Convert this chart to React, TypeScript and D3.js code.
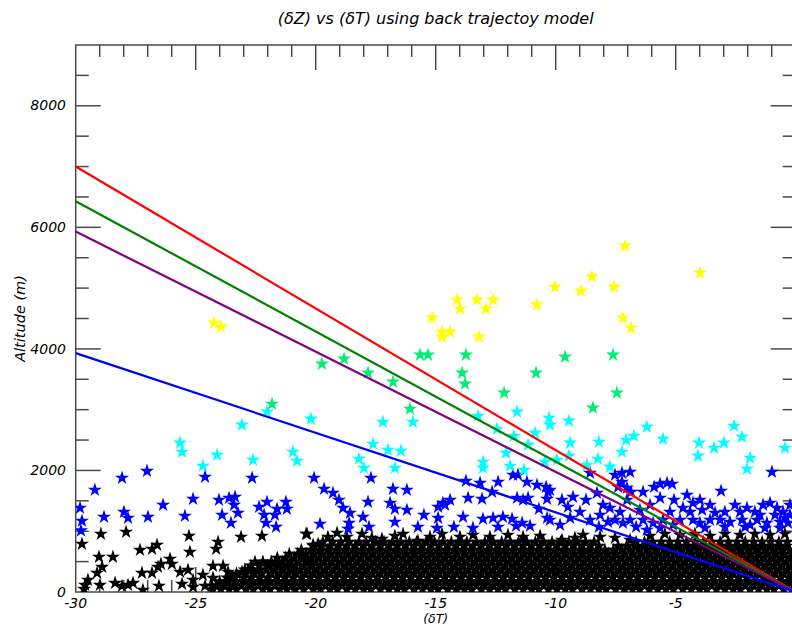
import * as d3 from "d3";
import React from "react";

// axis setup
const xDomain = [-30, 0];
const yDomain = [0, 9000];
const xLabels = [-30, -25, -20, -15, -10, -5];
const yLabels = [0, 2000, 4000, 6000, 8000];

// fitted lines: altitude at dT = -30, all running to the origin
const lineStart = [7000, 6430, 5930, 3930];
const lineColors = ["#ff0000", "#008000", "#800080", "#0000ff"];

// star colour by altitude band
const bandLimits = [1000, 2000, 3000, 4000];
const bandColors = ["#000000", "#0000ff", "#00ffff", "#00ee76", "#ffff00"];

const yellowStars = [
  [-7.11, 5695], [-3.99, 5251], [-10.03, 5020], [-8.49, 5185], [-8.95, 4954], [-7.57, 5020],
  [-14.11, 4806], [-13.28, 4806], [-12.61, 4806], [-13.99, 4658], [-12.9, 4658], [-10.78, 4724],
  [-15.15, 4510], [-7.2, 4510], [-6.86, 4345], [-14.74, 4280], [-14.4, 4280], [-14.74, 4197],
  [-13.2, 4197], [-24.24, 4428], [-23.95, 4362],
];

const greenStars = [
  [-15.65, 3901], [-15.32, 3901], [-13.74, 3901], [-9.61, 3868], [-7.61, 3901], [-13.9, 3605],
  [-10.82, 3605], [-13.78, 3424], [-16.78, 3457], [-12.15, 3276], [-7.45, 3276], [-8.45, 3029],
  [-16.07, 3012], [-19.74, 3753], [-18.82, 3835], [-17.82, 3605], [-21.82, 3094],
];

const cyanStars = [
  [-25.65, 2453], [-25.57, 2304], [-24.7, 2074], [-24.11, 2255], [-23.07, 2749], [-22.61, 2173],
  [-22.03, 2963], [-20.95, 2304], [-20.78, 2156], [-20.2, 2848], [-17.2, 2798], [-15.95, 2798],
  [-17.61, 2436], [-16.99, 2337], [-16.45, 2321], [-18.2, 2189], [-17.99, 2041], [-16.7, 2041],
  [-13.24, 2897], [-11.61, 2963], [-12.45, 2683], [-11.74, 2568], [-13.03, 2140], [-13.03, 2041],
  [-12.07, 2288], [-11.9, 2074], [-11.32, 2008], [-11.15, 2420], [-10.86, 2617], [-10.45, 2140],
  [-10.24, 2749], [-10.28, 2864], [-9.45, 2815], [-9.4, 2453], [-9.95, 2173], [-8.2, 2469],
  [-8.24, 2189], [-7.74, 2058], [-8.7, 2090], [-7.24, 2304], [-7.07, 2502], [-6.74, 2568],
  [-6.2, 2716], [-5.53, 2518], [-4.03, 2453], [-4.07, 2239], [-3.4, 2370], [-2.99, 2453],
  [-2.57, 2732], [-2.24, 2551], [-1.9, 2206], [-2.03, 2025], [-0.45, 2370], [-9.45, 2239],
];

const blueStars = [
  [-29.82, 1383], [-29.74, 1169], [-29.78, 1010], [-29.2, 1679], [-28.82, 1235], [-28.07, 1876],
  [-27.99, 1317], [-27.82, 1218], [-27.03, 1990], [-26.99, 1235], [-26.36, 1432], [-25.45, 1251],
  [-25.11, 1531], [-24.61, 1893], [-24.03, 1514], [-23.9, 1267], [-23.61, 1547], [-23.53, 1136],
  [-23.36, 1564], [-23.4, 1432], [-23.24, 1300], [-22.65, 1876], [-22.36, 1399], [-22.03, 1481],
  [-22.15, 1267], [-22.07, 1136], [-21.7, 1267], [-21.65, 1070], [-21.61, 1366], [-21.24, 1481],
  [-21.2, 1366], [-20.07, 1876], [-19.65, 1695], [-19.28, 1630], [-19.03, 1514], [-18.86, 1383],
  [-18.57, 1300], [-19.82, 1119], [-18.61, 1136], [-18.65, 1037], [-18.03, 1235], [-17.82, 1481],
  [-17.7, 1876], [-17.78, 1070], [-16.78, 1695], [-16.2, 1679], [-16.9, 1465], [-16.7, 1366],
  [-16.2, 1350], [-16.7, 1152], [-15.49, 1267], [-15.74, 1070], [-14.9, 1218], [-14.95, 1053],
  [-14.9, 1399], [-14.7, 1465], [-14.4, 1514], [-14.61, 1432], [-13.86, 1235], [-14.24, 1070],
  [-13.65, 1547], [-13.74, 1827], [-13.15, 1794], [-12.4, 1811], [-12.65, 1646], [-13.07, 1531],
  [-13.45, 1053], [-13.03, 1202], [-12.61, 1218], [-12.2, 1235], [-11.82, 1202], [-11.65, 1086],
  [-11.07, 1086], [-11.4, 1136], [-12.4, 1070], [-11.78, 1926], [-11.57, 1926], [-11.2, 1811],
  [-10.78, 1761], [-10.4, 1728], [-10.32, 1646], [-11.61, 1547], [-11.36, 1514], [-11.15, 1547],
  [-10.36, 1531], [-10.7, 1366], [-10.36, 1218], [-10.24, 1679], [-10.24, 1185], [-9.74, 1514],
  [-9.49, 1399], [-9.28, 1564], [-8.74, 1514], [-8.28, 1630], [-8.03, 1432], [-7.74, 1383],
  [-8.2, 1070], [-8.57, 1959], [-7.53, 1926], [-7.24, 1959], [-6.9, 1975], [-7.4, 1728],
  [-7.24, 1811], [-7.03, 1712], [-7.03, 1514], [-6.86, 1646], [-7.53, 1185], [-7.2, 1136],
  [-6.9, 1185], [-6.65, 1070], [-6.36, 1646], [-5.9, 1728], [-5.65, 1778], [-5.36, 1794],
  [-5.15, 1778], [-5.07, 1514], [-4.53, 1597], [-4.28, 1465], [-4.7, 1383], [-5.24, 1317],
  [-5.53, 1185], [-5.94, 1136], [-6.36, 1185], [-6.2, 1021], [-3.9, 1350], [-3.57, 1185],
  [-3.15, 1185], [-3.11, 1662], [-2.74, 1152], [-2.24, 1185], [-2.03, 1383], [-1.7, 1317],
  [-1.36, 1432], [-1.07, 1465], [-0.78, 1383], [-0.53, 1317], [-0.24, 1432], [-0.99, 1975],
  [-1.61, 1185], [-1.2, 1136], [-0.65, 1152], [-0.32, 1136], [-1.9, 1103], [-3.99, 1136],
  [-4.28, 1185], [-3.99, 1514], [-3.57, 1432], [-2.53, 1432], [-2.32, 1317], [-1.49, 1267],
  [-0.86, 1267], [-0.45, 1218], [-2.95, 1317], [-3.36, 1300], [-4.4, 1317], [-4.82, 1185],
  [-5.65, 1053], [-5.11, 1103], [-3.78, 1053], [-2.95, 1070], [-2.11, 1070], [-1.28, 1053],
  [-0.65, 1053], [-0.24, 1267], [-8.15, 1267], [-8.57, 1185], [-8.99, 1317], [-9.4, 1218],
  [-9.82, 1103], [-7.82, 1152], [-7.32, 1317], [-6.49, 1350], [-6.07, 1432], [-5.65, 1547],
];

// scattered black stars at the left of the cloud
const blackSparse = [
  [-29.74, 790], [-28.95, 955], [-27.9, 988], [-25.28, 922], [-25.24, 658], [-24.07, 823],
  [-24.15, 708], [-23.11, 905], [-22.24, 922], [-20.4, 955], [-20.11, 774], [-27.32, 691],
  [-26.82, 708], [-26.61, 774], [-28.45, 576], [-29.03, 576], [-28.9, 411], [-29.11, 313],
  [-29.49, 198], [-29.61, 115], [-28.99, 115], [-28.36, 148], [-28.07, 99], [-27.82, 115],
  [-27.61, 148], [-27.24, 313], [-26.82, 313], [-26.57, 411], [-26.45, 461], [-26.07, 543],
  [-25.99, 461], [-26.53, 99], [-27.2, 33], [-25.65, 329], [-25.57, 132], [-25.32, 362],
  [-25.11, 198], [-24.7, 280], [-24.61, 99], [-25.11, 82], [-24.32, 99], [-24.28, 428],
  [-23.86, 428], [-23.65, 329], [-24.28, 230], [-23.78, 165], [-23.49, 247], [-23.07, 329],
  [-22.82, 362], [-22.53, 494], [-22.2, 477], [-21.99, 411], [-21.7, 477], [-21.36, 444],
  [-20.99, 411], [-20.53, 609], [-20.32, 527], [-29.65, 49],
];

// stars along the ragged top of the dense cloud
const blackPeaks = [
  [-20.36, 955], [-19.9, 790], [-19.49, 905], [-19.11, 971], [-18.7, 905], [-18.07, 955],
  [-17.24, 872], [-16.36, 955], [-15.74, 839], [-14.74, 955], [-13.99, 905], [-13.45, 938],
  [-12.74, 905], [-11.99, 938], [-11.36, 905], [-9.74, 856], [-9.2, 889], [-8.86, 938],
  [-8.15, 905], [-6.9, 856], [-6.07, 922], [-5.45, 955], [-4.82, 938], [-4.2, 955],
  [-3.57, 922], [-2.95, 955], [-2.32, 938], [-1.7, 955], [-1.07, 938], [-0.45, 955],
  [-10.65, 922], [-7.53, 889], [-16.7, 922], [-15.24, 905], [-17.66, 889],
];

// the dense black cloud, read row by row (altitude, positions along dT)
const blackRows = [
  { alt: 40, xs: [-24.3, -23.95, -23.6, -23.3, -22.9, -22.6, -22.2, -21.9, -21.5, -21.2, -20.85, -20.5, -20.1, -19.8, -19.4, -19.1, -18.7, -18.35, -18.0, -17.7, -17.3, -16.95, -16.6, -16.3, -15.9, -15.55, -15.2, -14.9, -14.5, -14.15, -13.8, -13.5, -13.1, -12.75, -12.4, -12.1, -11.7, -11.35, -11.0, -10.7, -10.3, -9.95, -9.6, -9.3, -8.9, -8.55, -8.2, -7.9, -7.5, -7.15, -6.8, -6.5, -6.1, -5.75, -5.4, -5.1, -4.7, -4.35, -4.0, -3.7, -3.3, -2.95, -2.6, -2.3, -1.9, -1.55, -1.2, -0.9, -0.5, -0.15] },
  { alt: 105, xs: [-24.15, -23.8, -23.45, -23.1, -22.75, -22.4, -22.05, -21.7, -21.35, -21.0, -20.65, -20.3, -19.95, -19.6, -19.25, -18.9, -18.55, -18.2, -17.85, -17.5, -17.15, -16.8, -16.45, -16.1, -15.75, -15.4, -15.05, -14.7, -14.35, -14.0, -13.65, -13.3, -12.95, -12.6, -12.25, -11.9, -11.55, -11.2, -10.85, -10.5, -10.15, -9.8, -9.45, -9.1, -8.75, -8.4, -8.05, -7.7, -7.35, -7.0, -6.65, -6.3, -5.95, -5.6, -5.25, -4.9, -4.55, -4.2, -3.85, -3.5, -3.15, -2.8, -2.45, -2.1, -1.75, -1.4, -1.05, -0.7, -0.35] },
  { alt: 170, xs: [-24.0, -23.65, -23.3, -22.95, -22.6, -22.25, -21.9, -21.55, -21.2, -20.85, -20.5, -20.15, -19.8, -19.45, -19.1, -18.75, -18.4, -18.05, -17.7, -17.35, -17.0, -16.65, -16.3, -15.95, -15.6, -15.25, -14.9, -14.55, -14.2, -13.85, -13.5, -13.15, -12.8, -12.45, -12.1, -11.75, -11.4, -11.05, -10.7, -10.35, -10.0, -9.65, -9.3, -8.95, -8.6, -8.25, -7.9, -7.55, -7.2, -6.85, -6.5, -6.15, -5.8, -5.45, -5.1, -4.75, -4.4, -4.05, -3.7, -3.35, -3.0, -2.65, -2.3, -1.95, -1.6, -1.25, -0.9, -0.55, -0.2] },
  { alt: 235, xs: [-23.7, -23.4, -23.0, -22.7, -22.35, -22.0, -21.65, -21.3, -20.95, -20.6, -20.25, -19.9, -19.55, -19.2, -18.85, -18.5, -18.15, -17.8, -17.45, -17.1, -16.75, -16.4, -16.05, -15.7, -15.35, -15.0, -14.65, -14.3, -13.95, -13.6, -13.25, -12.9, -12.55, -12.2, -11.85, -11.5, -11.15, -10.8, -10.45, -10.1, -9.75, -9.4, -9.05, -8.7, -8.35, -8.0, -7.65, -7.3, -6.95, -6.6, -6.25, -5.9, -5.55, -5.2, -4.85, -4.5, -4.15, -3.8, -3.45, -3.1, -2.75, -2.4, -2.05, -1.7, -1.35, -1.0, -0.65, -0.3] },
  { alt: 300, xs: [-23.3, -22.95, -22.55, -22.25, -21.85, -21.5, -21.15, -20.8, -20.45, -20.1, -19.75, -19.4, -19.05, -18.7, -18.35, -18.0, -17.65, -17.3, -16.95, -16.6, -16.25, -15.9, -15.55, -15.2, -14.85, -14.5, -14.15, -13.8, -13.45, -13.1, -12.75, -12.4, -12.05, -11.7, -11.35, -11.0, -10.65, -10.3, -9.95, -9.6, -9.25, -8.9, -8.55, -8.2, -7.85, -7.5, -7.15, -6.8, -6.45, -6.1, -5.75, -5.4, -5.05, -4.7, -4.35, -4.0, -3.65, -3.3, -2.95, -2.6, -2.25, -1.9, -1.55, -1.2, -0.85, -0.5, -0.15] },
  { alt: 365, xs: [-22.95, -22.7, -22.4, -22.05, -21.7, -21.35, -21.0, -20.65, -20.3, -19.95, -19.6, -19.25, -18.9, -18.55, -18.2, -17.85, -17.5, -17.15, -16.8, -16.45, -16.1, -15.75, -15.4, -15.05, -14.7, -14.35, -14.0, -13.65, -13.3, -12.95, -12.6, -12.25, -11.9, -11.55, -11.2, -10.85, -10.5, -10.15, -9.8, -9.45, -9.1, -8.75, -8.4, -8.05, -7.7, -7.35, -7.0, -6.65, -6.3, -5.95, -5.6, -5.25, -4.9, -4.55, -4.2, -3.85, -3.5, -3.15, -2.8, -2.45, -2.1, -1.75, -1.4, -1.05, -0.7, -0.35] },
  { alt: 430, xs: [-22.7, -22.35, -22.0, -21.55, -21.2, -20.85, -20.5, -20.15, -19.8, -19.45, -19.1, -18.75, -18.4, -18.05, -17.7, -17.35, -17.0, -16.65, -16.3, -15.95, -15.6, -15.25, -14.9, -14.55, -14.2, -13.85, -13.5, -13.15, -12.8, -12.45, -12.1, -11.75, -11.4, -11.05, -10.7, -10.35, -10.0, -9.65, -9.3, -8.95, -8.6, -8.25, -7.9, -7.55, -7.2, -6.85, -6.5, -6.15, -5.8, -5.45, -5.1, -4.75, -4.4, -4.05, -3.7, -3.35, -3.0, -2.65, -2.3, -1.95, -1.6, -1.25, -0.9, -0.55, -0.2] },
  { alt: 495, xs: [-22.2, -21.85, -21.4, -21.05, -20.7, -20.35, -20.0, -19.65, -19.3, -18.95, -18.6, -18.25, -17.9, -17.55, -17.2, -16.85, -16.5, -16.15, -15.8, -15.45, -15.1, -14.75, -14.4, -14.05, -13.7, -13.35, -13.0, -12.65, -12.3, -11.95, -11.6, -11.25, -10.9, -10.55, -10.2, -9.85, -9.5, -9.15, -8.8, -8.45, -8.1, -7.75, -7.4, -7.05, -6.7, -6.35, -6.0, -5.65, -5.3, -4.95, -4.6, -4.25, -3.9, -3.55, -3.2, -2.85, -2.5, -2.15, -1.8, -1.45, -1.1, -0.75, -0.4] },
  { alt: 560, xs: [-21.6, -21.25, -20.9, -20.55, -20.2, -19.85, -19.5, -19.15, -18.8, -18.45, -18.1, -17.75, -17.4, -17.05, -16.7, -16.35, -16.0, -15.65, -15.3, -14.95, -14.6, -14.25, -13.9, -13.55, -13.2, -12.85, -12.5, -12.15, -11.8, -11.45, -11.1, -10.75, -10.4, -10.05, -9.7, -9.35, -9.0, -8.65, -8.3, -7.95, -7.6, -7.25, -6.9, -6.55, -6.2, -5.85, -5.5, -5.15, -4.8, -4.45, -4.1, -3.75, -3.4, -3.05, -2.7, -2.35, -2.0, -1.65, -1.3, -0.95, -0.6, -0.25] },
  { alt: 625, xs: [-21.1, -20.75, -20.4, -20.05, -19.7, -19.35, -19.0, -18.65, -18.3, -17.95, -17.6, -17.25, -16.9, -16.55, -16.2, -15.85, -15.5, -15.15, -14.8, -14.45, -14.1, -13.75, -13.4, -13.05, -12.7, -12.35, -12.0, -11.65, -11.3, -10.95, -10.6, -10.25, -9.9, -9.55, -9.2, -8.85, -8.5, -8.15, -7.8, -7.45, -7.1, -6.75, -6.4, -6.05, -5.7, -5.35, -5.0, -4.65, -4.3, -3.95, -3.6, -3.25, -2.9, -2.55, -2.2, -1.85, -1.5, -1.15, -0.8, -0.45, -0.1] },
  { alt: 690, xs: [-20.6, -20.2, -19.85, -19.5, -19.15, -18.8, -18.45, -18.1, -17.75, -17.4, -17.05, -16.7, -16.35, -16.0, -15.65, -15.3, -14.95, -14.6, -14.25, -13.9, -13.55, -13.2, -12.85, -12.5, -12.15, -11.8, -11.45, -11.1, -10.75, -10.4, -10.05, -9.7, -9.35, -9.0, -8.65, -8.3, -7.95, -7.6, -7.25, -6.9, -6.55, -6.2, -5.85, -5.5, -5.15, -4.8, -4.45, -4.1, -3.75, -3.4, -3.05, -2.7, -2.35, -2.0, -1.65, -1.3, -0.95, -0.6, -0.25] },
  { alt: 755, xs: [-20.1, -19.75, -19.4, -19.05, -18.7, -18.35, -18.0, -17.65, -17.3, -16.95, -16.6, -16.25, -15.9, -15.55, -15.2, -14.85, -14.5, -14.15, -13.8, -13.45, -13.1, -12.75, -12.4, -12.05, -11.7, -11.35, -11.0, -10.65, -10.3, -9.95, -9.6, -9.25, -8.9, -8.55, -8.2, -7.4, -7.05, -6.7, -6.35, -6.0, -5.65, -5.3, -4.95, -4.6, -4.25, -3.9, -3.55, -3.2, -2.85, -2.5, -2.15, -1.8, -1.45, -1.1, -0.75, -0.4] },
  { alt: 820, xs: [-19.7, -19.3, -18.95, -18.6, -18.2, -17.9, -17.5, -17.15, -16.8, -16.45, -16.1, -15.8, -15.4, -15.05, -14.7, -14.35, -14.0, -13.7, -13.3, -12.95, -12.6, -12.25, -11.9, -11.55, -11.2, -10.85, -10.5, -10.15, -9.8, -9.45, -9.1, -8.75, -8.4, -6.65, -6.3, -5.95, -5.6, -5.25, -4.9, -4.55, -4.2, -3.85, -3.5, -3.15, -2.8, -2.45, -2.1, -1.75, -1.4, -1.05, -0.7, -0.35] },
];

export default function App() {
  const width = 792;
  const height = 628;
  const left = 75.7;
  const right = 795.7;
  const top = 45;
  const bottom = 592;
  const font = "'DejaVu Sans', Verdana, sans-serif";
  const axisColor = "#4a4a4a";

  const x = d3.scaleLinear().domain(xDomain).range([left, right]);
  const y = d3.scaleLinear().domain(yDomain).range([bottom, top]);
  const color = d3.scaleThreshold<number, string>().domain(bandLimits).range(bandColors);
  const star = d3.symbol(d3.symbolStar, 62)() as string;

  const blackDense = blackRows.flatMap((r) => r.xs.map((v) => [v, r.alt]));
  const points = [
    ...blackSparse,
    ...blackDense,
    ...blackPeaks,
    ...blueStars,
    ...cyanStars,
    ...greenStars,
    ...yellowStars,
  ];

  const line = d3
    .line<number[]>()
    .x((d) => x(d[0]))
    .y((d) => y(d[1]));

  const xTicks = x.ticks(30).filter((t) => t > xDomain[0] && t < xDomain[1]);
  const yTicks = y.ticks(18).filter((t) => t > yDomain[0] && t < yDomain[1]);
  const xLen = (t: number) => (Math.abs(t) % 5 === 0 ? 25 : 12);
  const yLen = (t: number) => (t % 2000 === 0 ? 25 : 13);

  return (
    <svg
      width={width}
      height={height}
      style={{ position: "absolute", left: 0, top: 0, display: "block", background: "#fff" }}
    >
      <defs>
        <clipPath id="plot">
          <rect x={left} y={top} width={right - left} height={bottom - top} />
        </clipPath>
      </defs>

      {/* frame and ticks */}
      <g stroke={axisColor} strokeWidth={1.5} fill="none">
        <rect x={left} y={top} width={right - left} height={bottom - top} />
        {xTicks.map((t) => (
          <g key={"xt" + t}>
            <line x1={x(t)} x2={x(t)} y1={top} y2={top + xLen(t)} />
            <line x1={x(t)} x2={x(t)} y1={bottom} y2={bottom - xLen(t)} />
          </g>
        ))}
        {yTicks.map((t) => (
          <g key={"yt" + t}>
            <line x1={left} x2={left + yLen(t)} y1={y(t)} y2={y(t)} />
            <line x1={right} x2={right - yLen(t)} y1={y(t)} y2={y(t)} />
          </g>
        ))}
      </g>

      {/* stars, then the fitted lines over them */}
      <g clipPath="url(#plot)">
        {points.map((d, i) => (
          <path
            key={"p" + i}
            d={star}
            transform={`translate(${x(d[0])},${y(d[1])})`}
            fill={color(d[1])}
          />
        ))}
        {lineStart.map((v, i) => (
          <path
            key={"l" + i}
            d={line([
              [xDomain[0], v],
              [0, 0],
            ]) as string}
            stroke={lineColors[i]}
            strokeWidth={2.2}
            fill="none"
          />
        ))}
      </g>

      {/* labels */}
      <g fontFamily={font} fontStyle="italic" fontSize={14} fill="#000">
        {xLabels.map((t) => (
          <text key={"xl" + t} x={x(t)} y={608} textAnchor="middle">
            {t}
          </text>
        ))}
        {yLabels.map((t) => (
          <text key={"yl" + t} x={66} y={y(t)} dy="0.33em" textAnchor="end">
            {t}
          </text>
        ))}
        <text x={(left + right) / 2} y={24} textAnchor="middle" fontSize={16}>
          (δZ) vs (δT) using back trajectoy model
        </text>
        <text x={(left + right) / 2} y={623} textAnchor="middle" fontSize={12.5}>
          (δT)
        </text>
        <text
          transform={`translate(25,${(top + bottom) / 2}) rotate(-90)`}
          textAnchor="middle"
          fontSize={14.5}
        >
          Altitude (m)
        </text>
      </g>
    </svg>
  );
}
